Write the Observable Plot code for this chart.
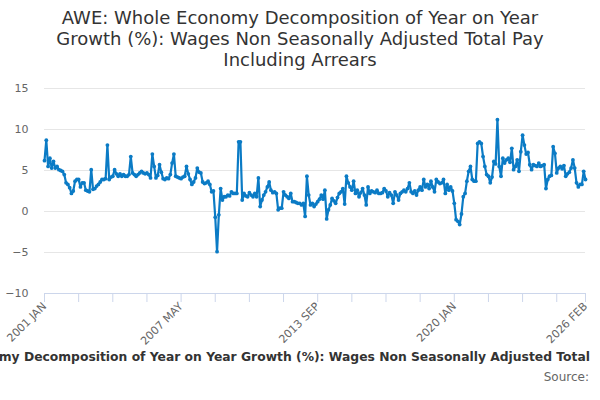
<!DOCTYPE html>
<html><head><meta charset="utf-8">
<script src="https://cdn.jsdelivr.net/npm/d3@7"></script>
<script src="https://cdn.jsdelivr.net/npm/@observablehq/plot@0.6"></script>
<style>
body{margin:0;width:600px;height:400px;overflow:hidden;font-family:"DejaVu Sans",sans-serif;background:#fff;position:relative}
#title{position:absolute;top:7px;left:0;width:600px;text-align:center;font-size:18px;line-height:21px;color:#333}
#chart{position:absolute;top:75px;left:0}
#capwrap{position:absolute;top:350px;left:0;width:591px;height:20px;overflow:hidden}
#caption{position:absolute;top:0;left:-120px;white-space:nowrap;font-weight:bold;font-size:12.8px;color:#333}
#source{position:absolute;top:370px;right:11px;font-size:12px;color:#666}
</style></head><body>
<div id="title">AWE: Whole Economy Decomposition of Year on Year<br>Growth (%): Wages Non Seasonally Adjusted Total Pay<br>Including Arrears</div>
<div id="chart"></div>
<div id="capwrap"><div id="caption"><span id="pre">AWE: Whole Econo</span><span id="mid">my Decomposition of Year on Year Growth (%): Wages Non Seasonally Adjusted Total</span><span> Pay Including Arrears</span></div></div>
<div id="source">Source:</div>
<script>
const startYear = 2001;
const monthNames = ["JAN","FEB","MAR","APR","MAY","JUN","JUL","AUG","SEP","OCT","NOV","DEC"];
const values = [
 6.2, 8.7, 5.5, 6.5, 5.3, 6.1, 5.3, 5.5, 5.1, 5.0, 4.9, 4.5,
 3.5, 3.3, 2.9, 2.2, 2.5, 3.7, 3.9, 3.9, 3.0, 3.5, 3.5, 2.6,
 2.5, 2.4, 5.1, 2.7, 2.8, 3.1, 3.3, 3.6, 3.9, 3.9, 4.0, 8.1,
 3.9, 4.2, 4.3, 5.1, 4.6, 4.3, 4.6, 4.3, 4.5, 4.3, 4.3, 4.5,
 6.7, 4.7, 4.5, 4.3, 4.5, 4.7, 4.9, 4.7, 4.6, 4.7, 4.5, 4.1,
 7.0, 5.5, 4.1, 4.4, 5.7, 4.8, 4.0, 3.9, 4.1, 4.0, 4.5, 5.9,
 7.0, 4.3, 4.2, 4.1, 4.0, 4.2, 4.3, 5.5, 4.6, 3.9, 3.3, 3.6,
 4.1, 5.3, 4.8, 4.7, 3.6, 3.4, 3.5, 3.7, 3.3, 2.4, 2.5, -0.7,
 -4.9, -0.4, 2.8, 1.4, 1.8, 1.8, 2.0, 1.9, 2.4, 2.2, 2.2, 2.2,
 8.5, 8.5, 1.4, 2.2, 1.9, 1.8, 2.3, 2.0, 1.8, 2.2, 1.8, 4.1,
 0.6, 1.4, 2.0, 2.4, 3.0, 3.6, 2.6, 2.3, 2.4, 2.2, 0.2, 0.4,
 0.4, 2.4, 2.0, 1.8, 1.6, 2.2, 1.2, 1.2, 1.1, 1.0, 1.0, 0.8,
 1.0, -0.6, 4.3, 2.0, 0.8, 1.0, 0.6, 0.9, 1.2, 1.5, 2.0, 1.5,
 2.6, -0.9, 0.2, 0.8, 1.6, 1.3, 1.0, 1.7, 2.2, 2.4, 2.8, 0.9,
 4.3, 3.5, 3.0, 2.6, 3.7, 2.2, 2.6, 1.8, 2.3, 2.8, 2.0, 0.8,
 3.0, 2.2, 2.5, 2.4, 2.3, 2.6, 2.2, 2.2, 2.3, 2.8, 2.5, 1.8,
 2.3, 2.0, 1.0, 2.4, 2.0, 1.4, 2.2, 2.4, 2.6, 2.4, 2.8, 3.5,
 2.4, 2.2, 2.5, 2.0, 2.6, 3.0, 2.6, 3.9, 3.0, 3.3, 2.8, 3.7,
 3.0, 2.4, 3.9, 3.6, 3.4, 3.5, 3.9, 2.2, 3.3, 2.6, 3.0, 2.5,
 1.0, -1.0, -1.2, -1.6, -0.3, 1.8, 2.2, 3.7, 4.9, 5.5, 3.9, 3.7,
 3.7, 8.3, 8.5, 8.3, 6.7, 5.5, 4.5, 4.3, 3.5, 4.2, 6.1, 5.8,
 11.2, 5.5, 4.3, 6.5, 5.9, 6.3, 6.5, 6.0, 7.7, 5.1, 5.5, 6.3,
 4.9, 7.3, 9.3, 8.1, 7.0, 7.2, 5.7, 5.1, 5.7, 5.6, 5.5, 5.9,
 5.5, 5.6, 5.7, 2.8, 3.9, 4.3, 4.4, 7.9, 7.1, 4.7, 5.3, 5.5,
 5.2, 5.6, 4.3, 4.6, 4.8, 5.3, 6.3, 5.3, 3.5, 3.0, 3.3, 3.3,
 4.9, 3.9
];
const xTickIndex = [0,19,38,57,76,95,114,133,152,171,190,209,228,247,266,285,301];
const xLabelIndex = [0,76,152,228,301];
const yTicks = [-10,-5,0,5,10,15];
const yGrid = [-5,0,5,10,15];

const label = i => `${startYear + Math.floor(i/12)} ${monthNames[i%12]}`;
const data = values.map((v,i)=>({i, v}));
const blue = "#0b7bc5";

const chart = Plot.plot({
  width:600, height:273,
  marginTop:13, marginBottom:55, marginLeft:44, marginRight:15,
  style:{fontFamily:"DejaVu Sans, sans-serif", fontSize:"11px", color:"#666", background:"#fff", overflow:"visible"},
  x:{domain:[0, values.length-1]},
  y:{domain:[-10,15]},
  marks:[
    Plot.gridY(yGrid,{stroke:"#e6e6e6", strokeOpacity:1}),
    Plot.ruleY([-10],{stroke:"#ccd6eb"}),
    Plot.axisY(yTicks,{tickSize:0, tickPadding:16, fill:"#666", label:null}),
    Plot.axisX(xTickIndex,{tickSize:9, stroke:"#ccd6eb", strokeOpacity:1, tickRotate:-45, tickPadding:2,
      fill:"#666", label:null, tickFormat:i => xLabelIndex.includes(i) ? label(i) : ""}),
    Plot.line(data,{x:"i", y:"v", stroke:blue, strokeWidth:2.2}),
    Plot.dot(data,{x:"i", y:"v", r:1.9, fill:blue})
  ]
});
document.getElementById("chart").appendChild(chart);
const cap = document.getElementById("caption");
const pre = document.getElementById("pre");
const mid = document.getElementById("mid");
const fs = 12.8 * 592 / mid.getBoundingClientRect().width;
cap.style.fontSize = fs + "px";
cap.style.left = (590 - pre.getBoundingClientRect().width - mid.getBoundingClientRect().width) + "px";
</script>
</body></html>
